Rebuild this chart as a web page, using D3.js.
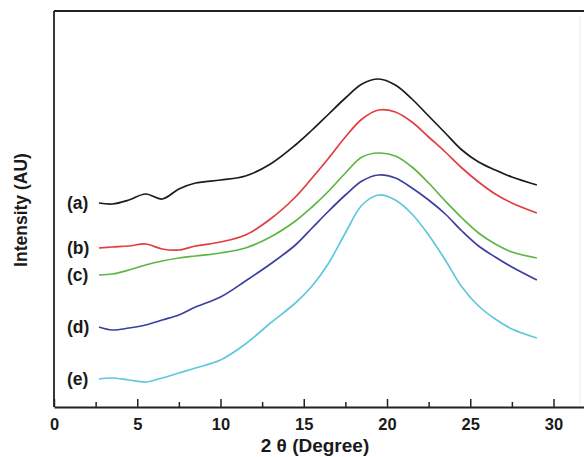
<!DOCTYPE html>
<html>
<head>
<meta charset="utf-8">
<script src="https://cdn.jsdelivr.net/npm/d3@7"></script>
<style>
  body { margin: 0; background: #fff; }
  svg { display: block; }
</style>
</head>
<body>
<div id="chart"></div>
<script>
// 2 theta positions (degree) where the traces were read
const twoTheta = [2.7, 3.5, 4.5, 5.5, 6.5, 7.5, 8.5, 10, 11.5, 13, 14.5, 15.5, 16.5,
  17.5, 18.5, 19.5, 20.5, 21.5, 22.5, 23.5, 24.5, 25.5, 26.5, 27.5, 29];

// intensities (AU), stacked traces as they appear in the figure
const seriesA = [204, 203, 207, 213, 208, 218, 224, 227, 231, 243, 262, 277, 293,
  309, 323, 328, 322, 308, 291, 274, 257, 245, 237, 230, 222];
const seriesB = [159, 160, 161, 163, 158, 157, 161, 165, 172, 188, 210, 229, 249,
  270, 288, 297, 295, 285, 270, 255, 239, 225, 213, 204, 194];
const seriesC = [132, 133, 137, 142, 146, 149, 151, 154, 159, 170, 186, 200, 216,
  234, 250, 254, 251, 240, 224, 206, 189, 174, 163, 155, 149];
const seriesD = [80, 77, 79, 82, 87, 92, 100, 110, 126, 143, 162, 179, 196,
  212, 226, 232, 229, 219, 207, 193, 176, 161, 150, 140, 127];
const seriesE = [28, 29, 27, 25, 29, 34, 39, 47, 63, 84, 104, 121, 144,
  174, 202, 212, 207, 193, 172, 147, 120, 101, 88, 78, 69];

const seriesLabels = ["(a)", "(b)", "(c)", "(d)", "(e)"];
const xTicks = [0, 5, 10, 15, 20, 25, 30];
const xMinorTicks = [2.5, 7.5, 12.5, 17.5, 22.5, 27.5];

const COLORS = ["#1c1c1c", "#e43c3f", "#5fb544", "#3b3fa2", "#5fc7de"];

const width = 584;
const height = 457;
const margin = { top: 11, left: 54, bottom: 407 };

const x = d3.scaleLinear().domain([0, 32]).range([margin.left, margin.left + 32 * 16.65]);
const y = d3.scaleLinear().domain([0, 396]).range([margin.bottom, margin.top]);

const svg = d3.create("svg")
  .attr("width", width)
  .attr("height", height)
  .attr("viewBox", `0 0 ${width} ${height}`)
  .style("font-family", "Arial, 'Liberation Sans', sans-serif");

// frame (right side is cut off in the original)
svg.append("line")
  .attr("x1", margin.left).attr("x2", width)
  .attr("y1", margin.top).attr("y2", margin.top)
  .attr("stroke", "#222").attr("stroke-width", 1.8);
svg.append("line")
  .attr("x1", margin.left).attr("x2", margin.left)
  .attr("y1", margin.top).attr("y2", margin.bottom)
  .attr("stroke", "#222").attr("stroke-width", 1.8);
svg.append("line")
  .attr("x1", 580).attr("x2", 580)
  .attr("y1", margin.top + 4).attr("y2", margin.bottom)
  .attr("stroke", "#ececec").attr("stroke-width", 1);

// x axis, ticks pointing inward
const xAxis = svg.append("g")
  .attr("transform", `translate(0,${margin.bottom})`)
  .call(d3.axisBottom(x).tickValues(xTicks).tickSizeInner(-8).tickSizeOuter(0).tickPadding(11));
xAxis.select(".domain").attr("stroke", "#222").attr("stroke-width", 1.8);
xAxis.selectAll(".tick line").attr("stroke", "#222").attr("stroke-width", 1.5);
xAxis.selectAll(".tick text")
  .attr("font-size", 16.5).attr("font-weight", "bold").attr("fill", "#1a1a1a");

const minor = svg.append("g")
  .attr("transform", `translate(0,${margin.bottom})`)
  .call(d3.axisBottom(x).tickValues(xMinorTicks).tickSizeInner(-5).tickSizeOuter(0).tickFormat(""));
minor.select(".domain").remove();
minor.selectAll(".tick line").attr("stroke", "#222").attr("stroke-width", 1.5);

// axis titles
svg.append("text")
  .attr("x", 315).attr("y", 452)
  .attr("text-anchor", "middle")
  .attr("font-size", 19).attr("font-weight", "bold").attr("fill", "#1a1a1a")
  .text("2 θ (Degree)");

svg.append("text")
  .attr("transform", "translate(27,210) rotate(-90)")
  .attr("text-anchor", "middle")
  .attr("font-size", 17.5).attr("font-weight", "bold").attr("fill", "#1a1a1a")
  .text("Intensity (AU)");

// traces
const allSeries = [seriesA, seriesB, seriesC, seriesD, seriesE];

const line = d3.line()
  .x((d) => x(d[0]))
  .y((d) => y(d[1]))
  .curve(d3.curveCatmullRom.alpha(0.5));

svg.append("g")
  .selectAll("path")
  .data(allSeries)
  .join("path")
  .attr("fill", "none")
  .attr("stroke", (d, i) => COLORS[i])
  .attr("stroke-width", 1.7)
  .attr("stroke-linejoin", "round")
  .attr("d", (vals) => line(vals.map((v, i) => [twoTheta[i], v])));

// trace labels, placed at the start of each curve
svg.append("g")
  .selectAll("text")
  .data(allSeries)
  .join("text")
  .attr("x", 67)
  .attr("y", (vals) => y(vals[0]) + 6)
  .attr("font-size", 17.5)
  .attr("font-weight", "bold")
  .attr("fill", "#1a1a1a")
  .text((d, i) => seriesLabels[i]);

document.getElementById("chart").appendChild(svg.node());
</script>
</body>
</html>
